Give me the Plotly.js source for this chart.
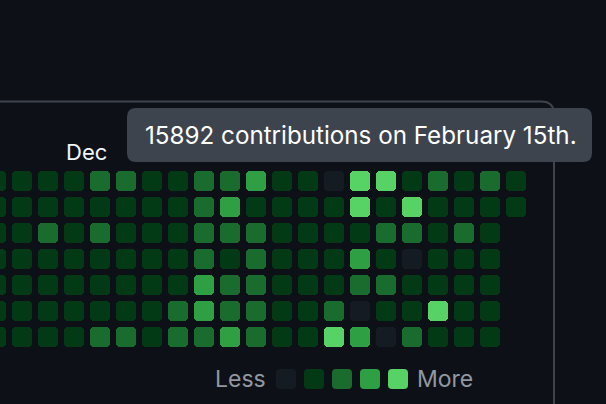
<!DOCTYPE html>
<html><head><meta charset="utf-8">
<script src="https://cdn.plot.ly/plotly-3.0.1.min.js"></script>
<style>html,body{margin:0;padding:0;background:#0d1117;}#chart{width:606px;height:404px;}</style>
</head><body><div id="chart"></div>
<script>
// ---- data (contribution level 0-4 per week column, one array per weekday row) ----
const weekdays = ['Sun', 'Mon', 'Tue', 'Wed', 'Thu', 'Fri', 'Sat'];
const weekIndex = [0,1,2,3,4,5,6,7,8,9,10,11,12,13,14,15,16,17,18,19,20];
const sunLevels = [1,1,1,1,2,2,1,1,2,2,3,1,1,0,4,4,1,2,1,2,1];
const monLevels = [1,1,1,1,1,1,1,1,2,3,1,1,1,1,4,1,4,1,1,1,1];
const tueLevels = [1,1,2,1,2,1,1,1,2,2,2,1,1,1,1,2,2,1,2,1,null];
const wedLevels = [1,1,1,1,1,1,1,1,2,1,2,1,1,1,3,1,0,1,1,1,null];
const thuLevels = [1,1,1,1,1,1,1,1,3,2,2,1,1,1,2,2,1,1,1,1,null];
const friLevels = [1,1,1,1,1,1,1,2,3,2,2,1,1,2,0,1,1,4,1,1,null];
const satLevels = [1,1,1,1,2,2,1,2,2,3,2,1,1,4,3,0,2,1,1,1,null];
const monthLabels = ['Dec'];
const monthWeeks = [3];
const legendLevels = [0, 1, 2, 3, 4];
const tooltipText = '15892 contributions on February 15th.';

// ---- styling ----
const palette = ['#151b23', '#033a16', '#196c2e', '#2ea043', '#56d364'];
const W = 606, H = 404;
const pitch = 26, cell = 20;
const firstColPx = -4, firstRowPx = 181;
const FONT = 'Inter, "Liberation Sans", Arial, sans-serif';

const rows = [sunLevels, monLevels, tueLevels, wedLevels, thuLevels, friLevels, satLevels];
const xs = [], ys = [], cols = [];
rows.forEach((arr, r) => {
  arr.forEach((lv, i) => {
    if (lv === null || lv === undefined) return;
    xs.push(weekIndex[i]); ys.push(r); cols.push(palette[lv]);
  });
});
const bw = cell / pitch, half = bw / 2, ov = 0.12;
const common = {type: 'bar', x: xs, width: bw, hoverinfo: 'skip', showlegend: false};
const lower = Object.assign({}, common, {
  base: ys.map(v => v - ov), y: ys.map(() => half + ov),
  marker: {color: cols, cornerradius: 4, line: {width: 0}}
});
const upper = Object.assign({}, common, {
  base: ys.map(v => v + ov), y: ys.map(() => -(half + ov)),
  marker: {color: cols, cornerradius: 4, line: {width: 0}}
});

// pixel -> paper helpers for decoration
const px = v => v / W, py = v => 1 - v / H;
function rr(x0, y0, x1, y1, r) {
  return 'M' + px(x0 + r) + ',' + py(y0) +
    ' L' + px(x1 - r) + ',' + py(y0) + ' Q' + px(x1) + ',' + py(y0) + ' ' + px(x1) + ',' + py(y0 + r) +
    ' L' + px(x1) + ',' + py(y1 - r) + ' Q' + px(x1) + ',' + py(y1) + ' ' + px(x1 - r) + ',' + py(y1) +
    ' L' + px(x0 + r) + ',' + py(y1) + ' Q' + px(x0) + ',' + py(y1) + ' ' + px(x0) + ',' + py(y1 - r) +
    ' L' + px(x0) + ',' + py(y0 + r) + ' Q' + px(x0) + ',' + py(y0) + ' ' + px(x0 + r) + ',' + py(y0) + ' Z';
}

const shapes = [];
// outer card border (top + right, rounded top-right corner)
shapes.push({type: 'path', xref: 'paper', yref: 'paper', layer: 'below',
  path: 'M' + px(-20) + ',' + py(101.5) + ' L' + px(541) + ',' + py(101.5) +
        ' Q' + px(554) + ',' + py(101.5) + ' ' + px(554) + ',' + py(114) +
        ' L' + px(554) + ',' + py(420),
  line: {color: '#3d444d', width: 2}});
// tooltip box
shapes.push({type: 'path', xref: 'paper', yref: 'paper', layer: 'above',
  path: rr(127, 108, 592, 162, 9), fillcolor: '#3d444d', line: {width: 0}});
// legend swatches
legendLevels.forEach((lv, k) => {
  const x0 = 276 + k * 28;
  shapes.push({type: 'path', xref: 'paper', yref: 'paper', layer: 'above',
    path: rr(x0, 369, x0 + 20, 389, 4), fillcolor: palette[lv], line: {width: 0}});
});

const annotations = [];
monthLabels.forEach((m, k) => {
  annotations.push({text: m, xref: 'x', yref: 'y', x: monthWeeks[k] - half, y: -1.12,
    xanchor: 'left', yanchor: 'middle', showarrow: false,
    font: {family: FONT, size: 22, color: '#f0f6fc'}});
});
annotations.push({text: tooltipText, xref: 'paper', yref: 'paper', x: px(143), y: py(135),
  xanchor: 'left', yanchor: 'middle', showarrow: false,
  font: {family: FONT, size: 24.2, color: '#ffffff'}});
annotations.push({text: 'Less', xref: 'paper', yref: 'paper', x: px(268), y: py(379),
  xanchor: 'right', yanchor: 'middle', showarrow: false,
  font: {family: FONT, size: 23, color: '#9198a1'}});
annotations.push({text: 'More', xref: 'paper', yref: 'paper', x: px(415), y: py(379),
  xanchor: 'left', yanchor: 'middle', showarrow: false,
  font: {family: FONT, size: 23, color: '#9198a1'}});

const layout = {
  width: W, height: H,
  margin: {l: 0, r: 0, t: 0, b: 0, pad: 0},
  paper_bgcolor: '#0d1117', plot_bgcolor: '#0d1117',
  barmode: 'overlay', bargap: 0,
  showlegend: false,
  xaxis: {range: [(0 - firstColPx) / pitch, (W - firstColPx) / pitch], visible: false, fixedrange: true},
  yaxis: {range: [(H - firstRowPx) / pitch, (0 - firstRowPx) / pitch], visible: false, fixedrange: true},
  shapes: shapes, annotations: annotations,
  font: {family: FONT}
};
Plotly.newPlot('chart', [lower, upper], layout, {staticPlot: true, displayModeBar: false});
</script>
</body></html>
